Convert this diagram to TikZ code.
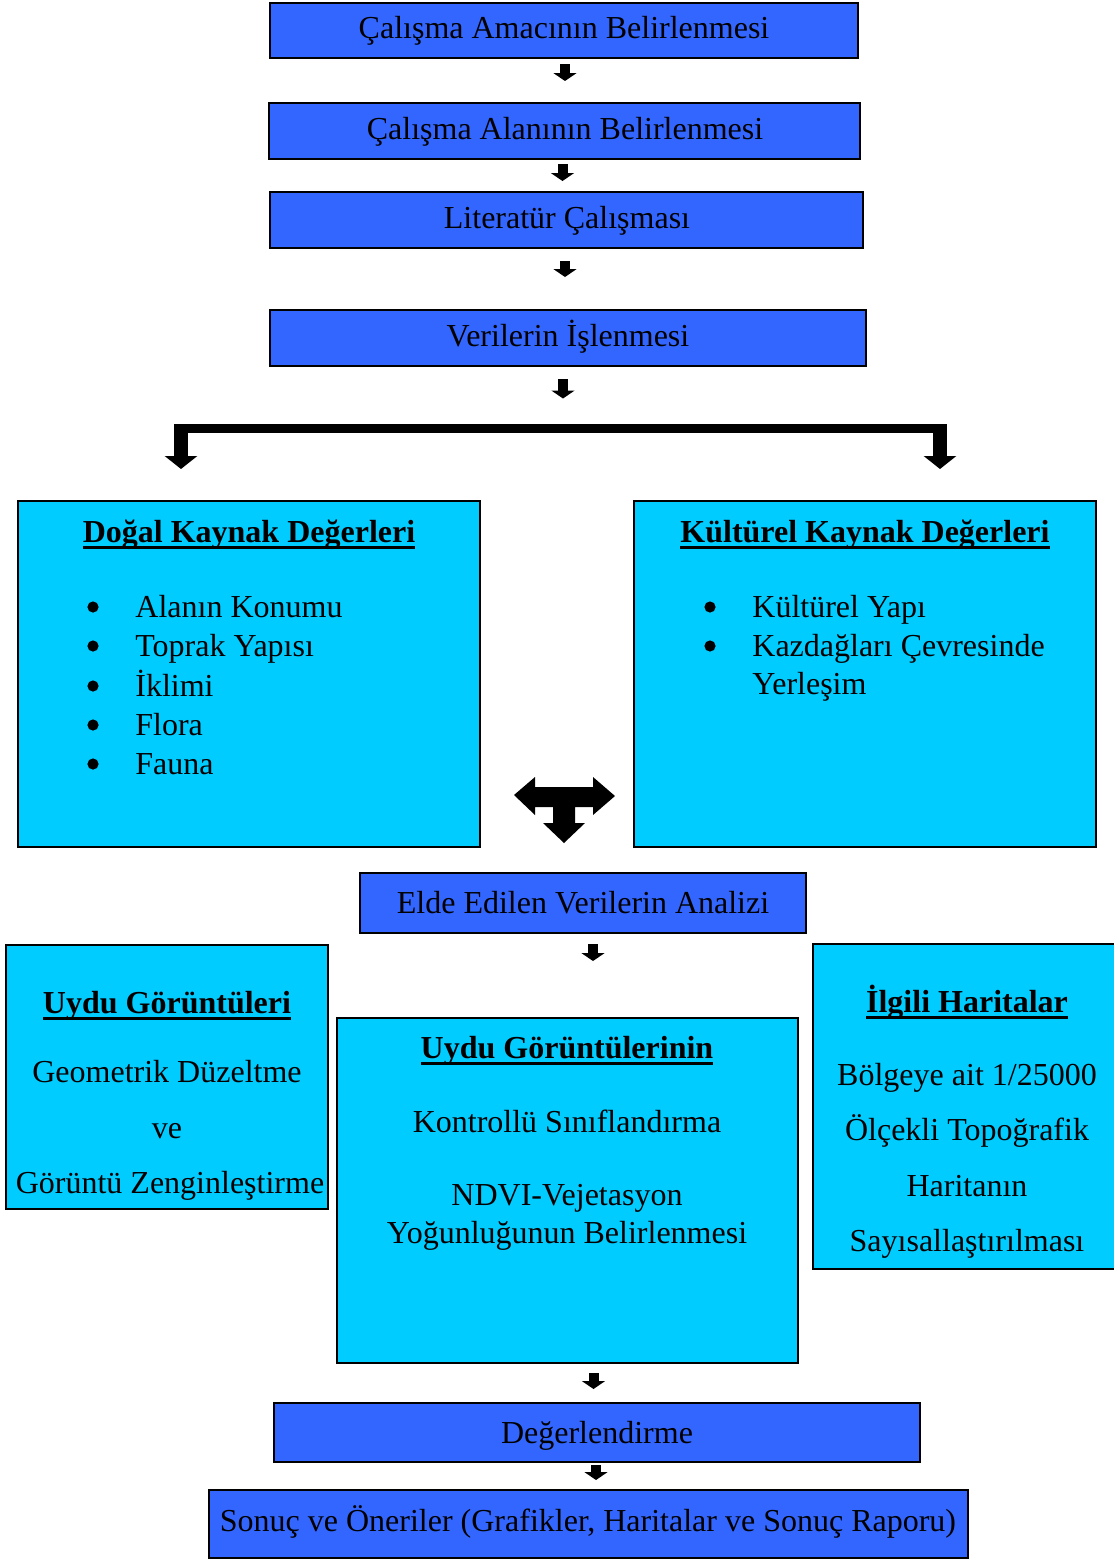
\documentclass[tikz,border=0pt]{standalone}
\usepackage{fontspec}
\setmainfont{Liberation Serif}
\usetikzlibrary{arrows.meta,calc,fit}
\definecolor{boxblue}{RGB}{51,102,255}
\definecolor{boxcyan}{RGB}{0,204,255}
\newcommand\myul[1]{\setbox0\hbox{#1}\rlap{\rule[-3.4pt]{\wd0}{1.6pt}}\box0}
\tikzset{
 bluebox/.style={draw=black, line width=1pt, fill=boxblue, inner sep=0pt},
 cyanbox/.style={draw=black, line width=1pt, fill=boxcyan, inner sep=0pt},
 txt/.style={font=\fontsize{16}{19}\selectfont, inner sep=0pt, anchor=base},
 txtw/.style={txt, anchor=base west},
 bul/.style={circle, fill=black, inner sep=0pt, minimum size=5.6pt},
 ttl/.style={txt, font=\fontsize{16}{19}\selectfont\bfseries},
 steparrow/.style={line width=5pt, -{Triangle[width=11.5pt,length=4pt]}},
 bigarrow/.style={line width=7pt, -{Triangle[width=16pt,length=6.5pt]}},
}
\begin{document}
\begin{tikzpicture}[x=0.5pt,y=-0.5pt]
\useasboundingbox (0,0) rectangle (1114,1560);
% top chain
\node[bluebox, fit={(270,3) (858,58)}] (b1) {};
\node[txt] (t1) at (564,38) {Çalışma Amacının Belirlenmesi};
\node[bluebox, fit={(269,103) (860,159)}] (b2) {};
\node[txt] (t2) at (565,139) {Çalışma Alanının Belirlenmesi};
\node[bluebox, fit={(270,192) (863,248)}] (b3) {};
\node[txt] (t3) at (567,228) {Literatür Çalışması};
\node[bluebox, fit={(270,310) (866,366)}] (b4) {};
\node[txt] (t4) at (568,346) {Verilerin İşlenmesi};
\draw[steparrow, shorten <=2.5pt, shorten >=10.5pt] ([xshift=0.5pt]b1.south) -- ([xshift=0.5pt]b1.south |- b2.north);
\draw[steparrow, shorten <=2pt, shorten >=5pt] ([xshift=-1pt]b2.south) -- ([xshift=-1pt]b2.south |- b3.north);
\draw[steparrow, shorten <=6pt, shorten >=16pt] ([xshift=-0.75pt]b3.south) -- ([xshift=-0.75pt]b3.south |- b4.north);
% bracket
\coordinate (brL) at (181,428.5);
\coordinate (brR) at (940,428.5);
\coordinate (brM) at (563,428.5);
\draw[steparrow, shorten <=6pt, shorten >=15pt] ([xshift=-2.5pt]b4.south) -- (brM);
\draw[line width=4.5pt] ([xshift=-3.5pt]brL) -- ([xshift=3.5pt]brR);
% two resource boxes
\node[cyanbox, fit={(18,501) (480,847)}] (b5) {};
\node[cyanbox, fit={(634,501) (1096,847)}] (b6) {};
\draw[bigarrow, shorten <=-2.25pt, shorten >=15.5pt] (brL) -- (brL |- b5.north);
\draw[bigarrow, shorten <=-2.25pt, shorten >=15.5pt] (brR) -- (brR |- b6.north);
\node[ttl] (t5) at (249,542) {\myul{Doğal Kaynak Değerleri}};
\node[bul] (u51) at (93,607) {};
\node[bul] (u52) at (93,646) {};
\node[bul] (u53) at (93,686) {};
\node[bul] (u54) at (93,725) {};
\node[bul] (u55) at (93,764) {};
\node[txtw] (l51) at (135,617) {Alanın Konumu};
\node[txtw] (l52) at (135,656) {Toprak Yapısı};
\node[txtw] (l53) at (135,696) {İklimi};
\node[txtw] (l54) at (135,735) {Flora};
\node[txtw] (l55) at (135,774) {Fauna};
\node[ttl] (t6) at (865,542) {\myul{Kültürel Kaynak Değerleri}};
\node[bul] (u61) at (710,607) {};
\node[bul] (u62) at (710,646) {};
\node[txtw] (l61) at (752,617) {Kültürel Yapı};
\node[txtw] (l62) at (752,656) {Kazdağları Çevresinde};
\node[txtw] (l63) at (752,694) {Yerleşim};
% T arrow
\fill[black] (514,795) -- (535,777) -- (535,787) -- (593,787) -- (593,777) -- (615,796)
  -- (593,815) -- (593,807) -- (575,807) -- (575,823) -- (585,823) -- (564,843)
  -- (543,823) -- (553,823) -- (553,807) -- (535,807) -- (535,815) -- cycle;
% analysis
\node[bluebox, fit={(360,873) (806,933)}] (b7) {};
\node[txt] (t7) at (583,913) {Elde Edilen Verilerin Analizi};
\node[cyanbox, fit={(6,945) (328,1209)}] (b8) {};
\node[ttl] (t8) at (167,1013) {\myul{Uydu Görüntüleri}};
\node[txt] (l81) at (167,1082) {Geometrik Düzeltme};
\node[txt] (l82) at (167,1138) {ve};
\node[txt] (l83) at (170,1193) {Görüntü Zenginleştirme};
\node[cyanbox, fit={(337,1018) (798,1363)}] (b9) {};
\draw[steparrow, shorten <=5pt, shorten >=28pt] ([xshift=5pt]b7.south) -- ([xshift=5pt]b7.south |- b9.north);
\node[ttl] (t9) at (567,1058) {\myul{Uydu Görüntülerinin}};
\node[txt] (l91) at (567,1132) {Kontrollü Sınıflandırma};
\node[txt] (l92) at (567,1205) {NDVI-Vejetasyon};
\node[txt] (l93) at (567,1243) {Yoğunluğunun Belirlenmesi};
\node[cyanbox, fit={(813,944) (1118,1269)}] (b10) {};
\node[ttl] (t10) at (967,1012) {\myul{İlgili Haritalar}};
\node[txt] (l101) at (967,1085) {Bölgeye ait 1/25000};
\node[txt] (l102) at (967,1140) {Ölçekli Topoğrafik};
\node[txt] (l103) at (967,1196) {Haritanın};
\node[txt] (l104) at (967,1251) {Sayısallaştırılması};
% bottom
\node[bluebox, fit={(274,1403) (920,1462)}] (b11) {};
\node[txt] (t11) at (597,1443) {Değerlendirme};
\node[bluebox, fit={(209,1490) (968,1558)}] (b12) {};
\node[txt] (t12) at (588,1531) {Sonuç ve Öneriler (Grafikler, Haritalar ve Sonuç Raporu)};
\draw[steparrow, shorten <=4.5pt, shorten >=6.5pt] ([xshift=13pt]b9.south) -- ([xshift=13pt]b9.south |- b11.north);
\draw[steparrow, shorten <=1pt, shorten >=4.5pt] ([xshift=-0.5pt]b11.south) -- ([xshift=-0.5pt]b11.south |- b12.north);
\end{tikzpicture}
\end{document}
